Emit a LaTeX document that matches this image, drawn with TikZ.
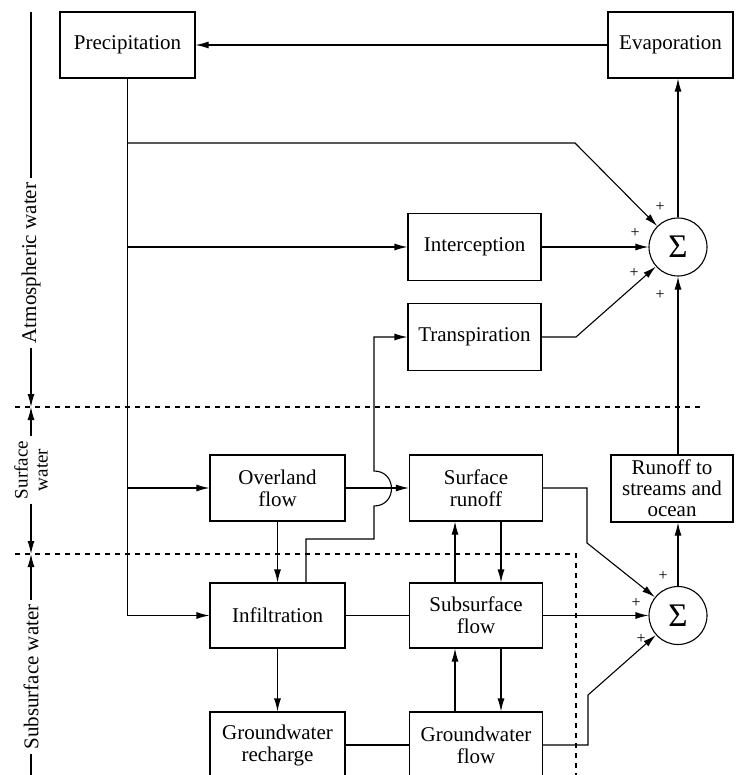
\documentclass[tikz,border=0pt]{standalone}
\usepackage{fontspec}
\setmainfont{Liberation Serif}
\usetikzlibrary{arrows.meta}
\begin{document}
\begin{tikzpicture}[x=1pt,y=-1pt, line width=1.1pt,
  >={Latex[length=13pt,width=7pt]},
  box/.style={draw, inner sep=0pt, align=center, minimum height=66pt,
    font=\fontsize{21}{22}\selectfont},
  sumnode/.style={draw, circle, inner sep=0pt, minimum size=58pt,
    font=\fontsize{33}{33}\selectfont},
  plus/.style={inner sep=0pt, font=\fontsize{16}{16}\selectfont},
  side/.style={rotate=90, inner sep=4pt, align=center, font=\fontsize{21}{22}\selectfont},
  zone/.style={line width=1.1pt, dash pattern=on 5pt off 5pt}]
\useasboundingbox (0,0) rectangle (735,775);

% boxes
\node[box, minimum width=135pt] (prec) at (127.5,45) {Precipitation};
\node[box, minimum width=125pt] (evap) at (670.5,45) {Evaporation};
\node[box, minimum width=133pt, minimum height=67pt] (inter) at (474.5,247) {Interception};
\node[box, minimum width=133pt, minimum height=67pt] (trans) at (474.5,337) {Transpiration};
\node[box, minimum width=135pt] (over) at (277.5,488) {Overland\\flow};
\node[box, minimum width=133pt] (surf) at (476,488) {Surface\\runoff};
\node[box, minimum width=122pt, minimum height=67pt, font=\fontsize{21}{21}\selectfont] (runoff) at (672,488.5) {Runoff to\\streams and\\ocean};
\node[box, minimum width=135pt, minimum height=65pt] (infil) at (277.5,615.5) {Infiltration};
\node[box, minimum width=133pt, minimum height=65pt] (subs) at (476,615.5) {Subsurface\\flow};
\node[box, minimum width=135pt] (gwr) at (277.5,745) {Groundwater\\recharge};
\node[box, minimum width=133pt] (gwf) at (476,745) {Groundwater\\flow};

% summation nodes
\node[sumnode] (s1) at (678,247) {Σ};
\node[sumnode] (s2) at (678,615.5) {Σ};

% plus signs
\node[plus] (p1) at (660,207) {+};
\node[plus] (p2) at (635,233) {+};
\node[plus] (p3) at (634,273) {+};
\node[plus] (p4) at (660,295) {+};
\node[plus] (p5) at (663,576) {+};
\node[plus] (p6) at (636,603) {+};
\node[plus] (p7) at (641,639) {+};

% helper coordinates
\coordinate (b1) at (127.5,143);
\coordinate (c1) at (575,143);
\coordinate (c2) at (576,337);
\coordinate (c4) at (587,543);
\coordinate (c5) at (588,695);
\coordinate (hA) at (306,539);
\coordinate (hB) at (374,539);
\coordinate (hC) at (374,506);
\coordinate (hD) at (374,471);

% connectors
\draw[->] (evap.west) -- (prec.east);
\draw[->] (prec.south) |- (infil.west);
\draw[->] (b1) -- (c1) -- (s1);
\draw[->] (prec.south |- inter.west) -- (inter.west);
\draw[->] (prec.south |- over.west) -- (over.west);
\draw[->] (inter.east) -- (s1);
\draw[->] (trans.east) -- (c2) -- (s1);
\draw[->] (s1.north) -- (s1.north |- evap.south);
\draw[->] (runoff.north -| s1.south) -- (s1.south);
\draw[->] (s2.north) -- (s2.north |- runoff.south);
\draw[->] (over.east) -- (surf.west);
\draw[->] (over.south) -- (infil.north);
\draw[->] (hA |- infil.north) -- (hA) -- (hB) -- (hC)
   .. controls +(23.3,0) and +(23.3,0) .. (hD) -- (hD |- trans.west) -- (trans.west);
\draw (infil.east) -- (subs.west);
\draw[->] ([xshift=-21pt]subs.north) -- ([xshift=-21pt]surf.south);
\draw[->] ([xshift=25pt]surf.south) -- ([xshift=25pt]subs.north);
\draw[->] ([xshift=-21pt]gwf.north) -- ([xshift=-21pt]subs.south);
\draw[->] ([xshift=25pt]subs.south) -- ([xshift=25pt]gwf.north);
\draw[->] (infil.south) -- (gwr.north);
\draw (gwr.east) -- (gwf.west);
\draw[->] (subs.east) -- (s2);
\draw[->] (surf.east) -| (c4) -- (s2);
\draw[->] (gwf.east) -| (c5) -- (s2);

% zone boundaries
\coordinate (z1a) at (15,407);
\coordinate (z1b) at (703,407);
\coordinate (z2a) at (15,554);
\coordinate (z2b) at (576,554);
\coordinate (z2c) at (576,780);
\draw[zone] (z1a) -- (z1b);
\draw[zone] (z2a) -- (z2b) -- (z2c);

% side labels
\node[side] (atm) at (31,263) {Atmospheric water};
\node[side, font=\fontsize{19}{20}\selectfont] (sw) at (31,470) {Surface\\water};
\node[side] (ssw) at (31,677) {Subsurface water};
\coordinate (t0) at (31,12);
\coordinate (d1) at (31,407);
\coordinate (d2) at (31,554);
\coordinate (t1) at (31,780);
\draw (t0) -- (atm.east);
\draw[->] (atm.west) -- (d1);
\draw[->] (sw.east) -- (d1);
\draw[->] (sw.west) -- (d2);
\draw[->] (ssw.east) -- (d2);
\draw (ssw.west) -- (t1);
\end{tikzpicture}
\end{document}
